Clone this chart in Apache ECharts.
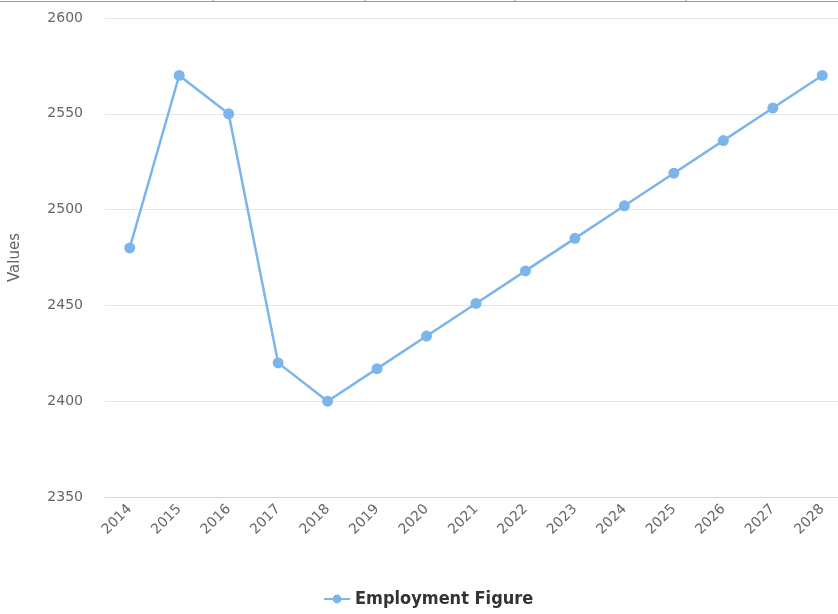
<!DOCTYPE html>
<html>
<head>
<meta charset="utf-8">
<script src="https://cdn.jsdelivr.net/npm/echarts@6/dist/echarts.min.js"></script>
<style>
html,body{margin:0;padding:0;background:#fff;overflow:hidden;}
#chart{width:847px;height:614px;}
</style>
</head>
<body>
<div id="chart"></div>
<script>
const categories = ['2014','2015','2016','2017','2018','2019','2020','2021','2022','2023','2024','2025','2026','2027','2028'];
const seriesName = 'Employment Figure';
const values = [2480, 2570, 2550, 2420, 2400, 2417, 2434, 2451, 2468, 2485, 2502, 2519, 2536, 2553, 2570];
const yAxisTitle = 'Values';

const chart = echarts.init(document.getElementById('chart'));
chart.setOption({
  animation: false,
  graphic: [
    {type:'line', shape:{x1:0,y1:1.5,x2:847,y2:1.5}, style:{stroke:'#999', lineWidth:1}},
    {type:'line', shape:{x1:213,y1:0,x2:213,y2:2}, style:{stroke:'#999', lineWidth:1}},
    {type:'line', shape:{x1:365,y1:0,x2:365,y2:2}, style:{stroke:'#999', lineWidth:1}},
    {type:'line', shape:{x1:515,y1:0,x2:515,y2:2}, style:{stroke:'#999', lineWidth:1}},
    {type:'line', shape:{x1:686,y1:0,x2:686,y2:2}, style:{stroke:'#999', lineWidth:1}}
  ],
  grid: {left: 102, top: 18, right: 0, bottom: 117, containLabel: false},
  legend: {
    data: [seriesName],
    bottom: 1,
    left: 318,
    itemWidth: 26,
    itemHeight: 11,
    itemGap: 6,
    textStyle: {color: '#333', fontSize: 18, fontWeight: 'bold', fontFamily: 'DejaVu Sans Condensed, DejaVu Sans, sans-serif'}
  },
  xAxis: {
    type: 'category',
    data: categories,
    boundaryGap: true,
    axisLine: {lineStyle: {color: '#ccd6eb'}},
    axisTick: {show: false},
    axisLabel: {rotate: 45, color: '#666', fontSize: 14, margin: 10, fontFamily: 'DejaVu Sans, sans-serif'}
  },
  yAxis: {
    type: 'value',
    min: 2350,
    max: 2600,
    interval: 50,
    name: yAxisTitle,
    nameLocation: 'middle',
    nameGap: 82,
    nameTextStyle: {color: '#666', fontSize: 15, fontFamily: 'DejaVu Sans, sans-serif'},
    axisLine: {show: false},
    axisTick: {show: false},
    splitLine: {lineStyle: {color: '#e6e6e6'}},
    axisLabel: {color: '#666', fontSize: 14, margin: 22, fontFamily: 'DejaVu Sans, sans-serif', formatter: v => String(v)}
  },
  series: [{
    name: seriesName,
    type: 'line',
    data: values,
    symbol: 'circle',
    symbolSize: 11,
    lineStyle: {color: '#7cb5ec', width: 2.5},
    itemStyle: {color: '#7cb5ec'}
  }]
});
</script>
</body>
</html>
